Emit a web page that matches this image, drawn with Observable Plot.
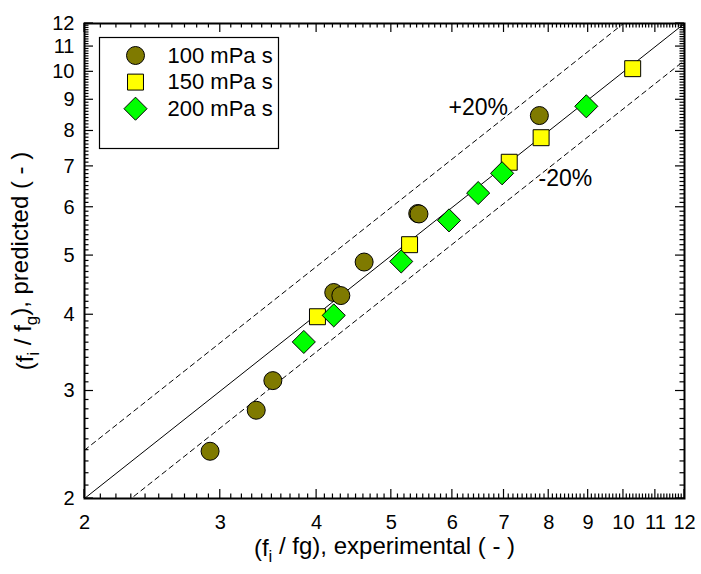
<!DOCTYPE html>
<html>
<head>
<meta charset="utf-8">
<script src="https://cdn.jsdelivr.net/npm/d3@7"></script>
<script src="https://cdn.jsdelivr.net/npm/@observablehq/plot@0.6"></script>
<style>
  html, body { margin: 0; padding: 0; background: #fff; }
  #chart { width: 701px; height: 574px; }
  svg text { font-family: "Liberation Sans", Arial, sans-serif; }
</style>
</head>
<body>
<div id="chart"></div>
<script>
// Friction-factor ratio: experimental vs predicted, three viscosities
const series = ["100 mPa s", "150 mPa s", "200 mPa s"];
const exp100  = [2.91, 3.34, 3.51, 4.21, 4.30, 4.61, 5.41, 5.43, 7.78];
const pred100 = [2.39, 2.79, 3.12, 4.35, 4.30, 4.88, 5.86, 5.85, 8.48];
const exp150  = [4.01, 5.28, 7.11, 7.82, 10.28];
const pred150 = [3.97, 5.21, 7.11, 7.80, 10.12];
const exp200  = [3.85, 4.21, 5.15, 5.94, 6.48, 6.96, 8.95];
const pred200 = [3.61, 3.99, 4.89, 5.71, 6.33, 6.82, 8.78];

// Reference lines y = k·x (perfect agreement and the error band)
const bandFactors = [1.2, 0.87];
const bandLabels = ["+20%", "-20%"];
const bandLabelX = [5.93, 7.76];
const bandLabelY = [8.74, 6.69];

const domain = [2, 12];
const majorTicks = [2, 3, 4, 5, 6, 7, 8, 9, 10, 11, 12];
const minorTicks = d3.range(21, 120).map(v => v / 10).filter(v => !Number.isInteger(v));

const xTitle = "(fi / fg), experimental ( - )";
const yTitle = "(fi / fg), predicted ( - )";

const W = 701, H = 574;
const mL = 84, mR = 17, mT = 23, mB = 76;
const fw = W - mL - mR, fh = H - mT - mB;

const pts = (xs, ys) => xs.map((x, i) => ({x, y: ys[i]}));
const line = k => [{x: domain[0], y: domain[0] * k}, {x: domain[1], y: domain[1] * k}];

const styles = [
  {symbol: "circle",   fill: "#7f7a00", r: 9},
  {symbol: "square",   fill: "#ffff00", r: 9},
  {symbol: "diamond2", fill: "#00ff00", r: 10.4}
];
const data = [pts(exp100, pred100), pts(exp150, pred150), pts(exp200, pred200)];

const legendMarks = series.flatMap((name, i) => [
  Plot.dot([name], {frameAnchor: "top-left", dx: 51, dy: 32 + 26.6 * i,
    symbol: () => styles[i].symbol, r: styles[i].r, fill: styles[i].fill, stroke: "black", strokeWidth: 1}),
  Plot.text([name], {frameAnchor: "top-left", dx: 83, dy: 32 + 26.6 * i, text: d => d,
    textAnchor: "start", lineAnchor: "middle", fontSize: 22, fill: "black"})
]);

const chart = Plot.plot({
  width: W, height: H,
  marginLeft: mL, marginRight: mR, marginTop: mT, marginBottom: mB,
  style: {fontFamily: "Liberation Sans, Arial, sans-serif", background: "white", color: "black"},
  x: {type: "log", domain},
  y: {type: "log", domain},
  symbol: {type: "identity"},
  marks: [
    Plot.line(line(1), {x: "x", y: "y", stroke: "black", strokeWidth: 1, clip: true}),
    ...bandFactors.map(k => Plot.line(line(k), {x: "x", y: "y", stroke: "black", strokeWidth: 1,
      strokeDasharray: "5,4", clip: true})),
    Plot.text(bandLabels, {x: (d, i) => bandLabelX[i], y: (d, i) => bandLabelY[i], text: d => d,
      textAnchor: "start", fontSize: 23, fill: "black"}),
    ...data.map((d, i) => Plot.dot(d, {x: "x", y: "y", symbol: () => styles[i].symbol,
      r: styles[i].r, fill: styles[i].fill, stroke: "black", strokeWidth: 1})),
    Plot.axisX({ticks: majorTicks, tickSize: 0, tickPadding: 16, fontSize: 20, label: null,
      tickFormat: d => String(d)}),
    Plot.axisY({ticks: majorTicks, tickSize: 0, tickPadding: 10, fontSize: 20, label: null,
      tickFormat: d => String(d)}),
    Plot.frame({stroke: "black", strokeWidth: 2}),
    Plot.frame({stroke: "black", strokeWidth: 1.2, fill: "white",
      insetLeft: 15, insetTop: 14, insetRight: fw - 194, insetBottom: fh - 125}),
    ...legendMarks,
    Plot.text([xTitle], {frameAnchor: "bottom", dy: 50, text: d => d, textAnchor: "middle",
      lineAnchor: "middle", fontSize: 24, fill: "black"}),
    Plot.text([yTitle], {frameAnchor: "left", dx: -59, text: d => d, rotate: -90,
      textAnchor: "middle", lineAnchor: "middle", fontSize: 24, fill: "black"})
  ]
});

// Inward-pointing ticks on all four sides, placed with the plot's own scales
(function drawTicks() {
  const sx = chart.scale("x"), sy = chart.scale("y");
  const left = mL, right = W - mR, top = mT, bottom = H - mB;
  const g = d3.select(chart).append("g").attr("stroke", "black").attr("stroke-width", 1.2);
  const add = (values, size) => {
    for (const v of values) {
      const px = sx.apply(v), py = sy.apply(v);
      g.append("line").attr("x1", px).attr("x2", px).attr("y1", bottom).attr("y2", bottom - size);
      g.append("line").attr("x1", px).attr("x2", px).attr("y1", top).attr("y2", top + size);
      g.append("line").attr("y1", py).attr("y2", py).attr("x1", left).attr("x2", left + size);
      g.append("line").attr("y1", py).attr("y2", py).attr("x1", right).attr("x2", right - size);
    }
  };
  add(minorTicks, 4.5);
  add(majorTicks, 9);
})();

// Subscripts in the axis titles
function subscript(full, parts) {
  d3.select(chart).selectAll("text").filter(function() { return this.textContent === full; })
    .each(function() {
      const t = d3.select(this);
      t.text(null);
      parts.forEach(([s, sub]) => {
        const ts = t.append("tspan").text(s);
        if (sub) ts.attr("font-size", "70%").attr("dy", "0.35em");
        else if (sub === false) ts.attr("dy", "-0.35em");
      });
    });
}
subscript(xTitle, [["(f"], ["i", true], [" / fg), experimental ( - )", false]]);
subscript(yTitle, [["(f"], ["i", true], [" / f", false], ["g", true], ["), predicted ( - )", false]]);

document.getElementById("chart").appendChild(chart);
</script>
</body>
</html>
